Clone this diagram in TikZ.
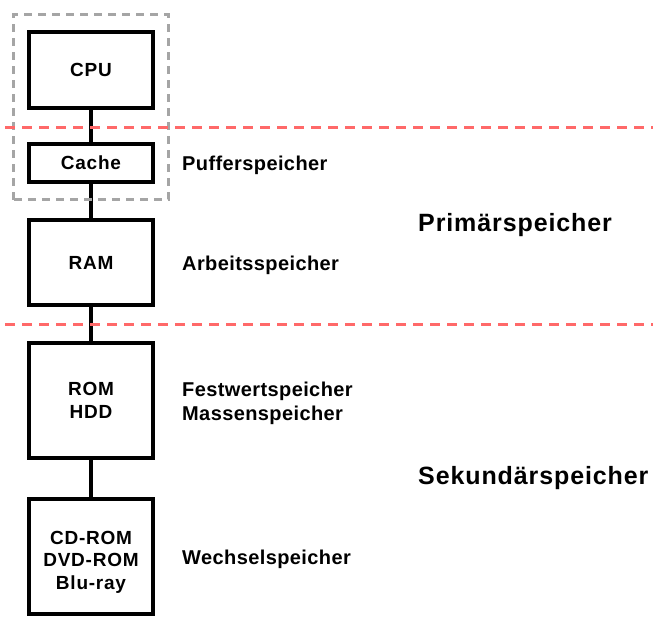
\documentclass[tikz,border=0pt]{standalone}
\usepackage{fontspec}
\setmainfont{Liberation Sans}[LetterSpace=4]
\newfontfamily\bezfont{Liberation Sans}[LetterSpace=2]
\newfontfamily\ebenefont{Liberation Sans}[LetterSpace=3.6]
\usetikzlibrary{fit}

\definecolor{trenn}{RGB}{255,105,105}
\definecolor{rahmen}{RGB}{165,165,165}

\tikzset{
  speicher/.style={draw=black, line width=3.3pt, minimum width=124pt, align=center,
    font=\fontsize{19}{22.5}\selectfont\bfseries},
  bez/.style={anchor=west, inner sep=0pt, align=left,
    font=\bezfont\fontsize{20}{24}\selectfont\bfseries},
  ebene/.style={anchor=west, inner sep=0pt, font=\ebenefont\fontsize{25}{30}\selectfont\bfseries},
  verb/.style={line width=3.3pt},
  grenze/.style={draw=trenn, line width=3pt, dash pattern=on 10pt off 7pt},
}

\begin{document}
\begin{tikzpicture}[x=1pt, y=-1pt]
\useasboundingbox (0,0) rectangle (653,633);

\node (cpu) at (91, 70) [speicher, minimum height=76pt] {CPU};
\node (cache) at (91, 163) [speicher, minimum height=38pt] {Cache};
\node (ram) at (91, 262.5) [speicher, minimum height=85pt] {RAM};
\node (rom) at (91, 400.5) [speicher, minimum height=115pt] {ROM\\HDD};
\node (cd) at (91, 556.5) [speicher, minimum height=115pt] {\rule{0pt}{24pt}CD-ROM\\DVD-ROM\\Blu-ray};

\node (puffer) at (182, 165) [bez] {Pufferspeicher};
\node (arbeit) at (182, 265) [bez] {Arbeitsspeicher};
\node (fest) at (182, 403) [bez] {Festwertspeicher\\Massenspeicher};
\node (wechsel) at (182, 559) [bez] {Wechselspeicher};

\node (primaer) at (418, 225) [ebene] {Primärspeicher};
\node (sekundaer) at (418, 478) [ebene] {Sekundärspeicher};

\draw [verb] (cpu) -- (cache);
\draw [verb] (cache) -- (ram);
\draw [verb] (ram) -- (rom);
\draw [verb] (rom) -- (cd);

% Prozessor mit Cache
\node (kern) [fit=(cpu)(cache), draw=rahmen, line width=3pt, dash pattern=on 8pt off 6pt,
  inner xsep=13.5pt, inner ysep=16pt] {};

% Trennlinien
\coordinate (l1) at (5, 127);
\coordinate (r1) at (653, 127);
\coordinate (l2) at (5, 324);
\coordinate (r2) at (653, 324);
\draw [grenze] (l1) -- (r1);
\draw [grenze] (l2) -- (r2);
\end{tikzpicture}
\end{document}
